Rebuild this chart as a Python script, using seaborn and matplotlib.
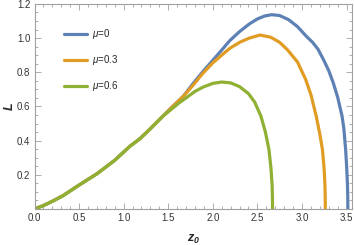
import pandas as pd
import matplotlib
matplotlib.use("Agg")
import matplotlib.pyplot as plt
from matplotlib.ticker import MultipleLocator
import seaborn as sns

# values
z_mu0 = [0, 0.1, 0.2, 0.32, 0.5, 0.7, 0.9, 1.07, 1.18, 1.3, 1.44, 1.55, 1.67, 1.78,
         1.89, 2.0, 2.1, 2.19, 2.3, 2.41, 2.5, 2.58, 2.66, 2.75, 2.85, 2.95, 3.05,
         3.12, 3.18, 3.25, 3.3, 3.35, 3.4, 3.45, 3.47, 3.49, 3.5, 3.51, 3.514, 3.515]
L_mu0 = [0, 0.02, 0.045, 0.078, 0.14, 0.206, 0.285, 0.367, 0.41, 0.47, 0.543, 0.6, 0.66, 0.735,
         0.805, 0.87, 0.93, 0.985, 1.038, 1.083, 1.112, 1.129, 1.137, 1.132, 1.108, 1.067, 1.01,
         0.975, 0.935, 0.865, 0.81, 0.74, 0.655, 0.543, 0.47, 0.347, 0.26, 0.151, 0.07, 0.0]

z_mu03 = [0, 0.1, 0.2, 0.32, 0.5, 0.7, 0.9, 1.07, 1.18, 1.3, 1.44, 1.55, 1.67, 1.78,
          1.89, 2.0, 2.1, 2.19, 2.3, 2.41, 2.53, 2.65, 2.75, 2.84, 2.95, 3.04, 3.1,
          3.16, 3.2, 3.23, 3.248, 3.258, 3.261, 3.262]
L_mu03 = [0, 0.02, 0.045, 0.078, 0.14, 0.206, 0.285, 0.367, 0.41, 0.47, 0.543, 0.6, 0.66, 0.725,
          0.795, 0.855, 0.9, 0.94, 0.975, 1.0, 1.018, 1.005, 0.975, 0.93, 0.86, 0.76, 0.67,
          0.543, 0.44, 0.347, 0.24, 0.14, 0.07, 0.0]

z_mu06 = [0, 0.1, 0.2, 0.32, 0.5, 0.7, 0.9, 1.07, 1.18, 1.3, 1.44, 1.55, 1.62, 1.7,
          1.8, 1.89, 2.0, 2.1, 2.2, 2.3, 2.4, 2.47, 2.54, 2.59, 2.63, 2.652, 2.665,
          2.669, 2.67]
L_mu06 = [0, 0.02, 0.045, 0.078, 0.14, 0.206, 0.285, 0.367, 0.41, 0.47, 0.543, 0.59, 0.62, 0.65,
          0.688, 0.713, 0.735, 0.743, 0.738, 0.716, 0.675, 0.625, 0.543, 0.45, 0.347, 0.24, 0.14,
          0.07, 0.0]

labels = ["$\\mu$=0", "$\\mu$=0.3", "$\\mu$=0.6"]
colors = ["#5E81B5", "#E19C24", "#8FB032"]

sns.set_style("ticks")
plt.rcParams['font.family'] = ['Liberation Sans', 'DejaVu Sans']
plt.rcParams['mathtext.fontset'] = 'custom'
plt.rcParams['mathtext.it'] = 'Liberation Sans:italic'
plt.rcParams['mathtext.bfit'] = 'Liberation Sans:italic:bold'

fig = plt.figure(figsize=(3.54, 2.45), dpi=100)
ax = fig.add_axes([0.0975, 0.147, 0.8965, 0.837])

series = [(z_mu0, L_mu0), (z_mu03, L_mu03), (z_mu06, L_mu06)]
for (z, L), lab, col in zip(series, labels, colors):
    df = pd.DataFrame({"z0": z, "L": L})
    sns.lineplot(data=df, x="z0", y="L", color=col, linewidth=2.3,
                 label=lab, ax=ax, sort=False, estimator=None)

ax.set_xlim(0, 3.56)
ax.set_ylim(0, 1.2)
ax.xaxis.set_major_locator(MultipleLocator(0.5))
ax.xaxis.set_minor_locator(MultipleLocator(0.1))
ax.set_yticks([0.2, 0.4, 0.6, 0.8, 1.0, 1.2])
ax.yaxis.set_minor_locator(MultipleLocator(0.05))
ax.xaxis.set_major_formatter(lambda v, p: f"{v:.1f}")
ax.yaxis.set_major_formatter(lambda v, p: f"{v:.1f}")

for s in ax.spines.values():
    s.set_color("#a0a0a0")
    s.set_linewidth(0.8)
ax.tick_params(which="both", direction="in", top=True, right=True,
               color="#a0a0a0", labelcolor="#333333", labelsize=7, width=0.6)
ax.tick_params(which="major", length=4, pad=3)
ax.tick_params(which="minor", length=2)

ax.set_xlabel("$\\mathbfit{z}_\\mathbfit{0}$", fontsize=9, labelpad=7)
ax.set_ylabel("L", fontsize=9, fontweight="bold", fontstyle="italic")
ax.yaxis.set_label_coords(-0.06, 0.5)

ax.legend(loc="upper left", bbox_to_anchor=(0.065, 0.93), frameon=False, fontsize=7,
          handlelength=2.4, handletextpad=0.5, labelspacing=1.25)

fig.savefig("out.png", dpi=100)
